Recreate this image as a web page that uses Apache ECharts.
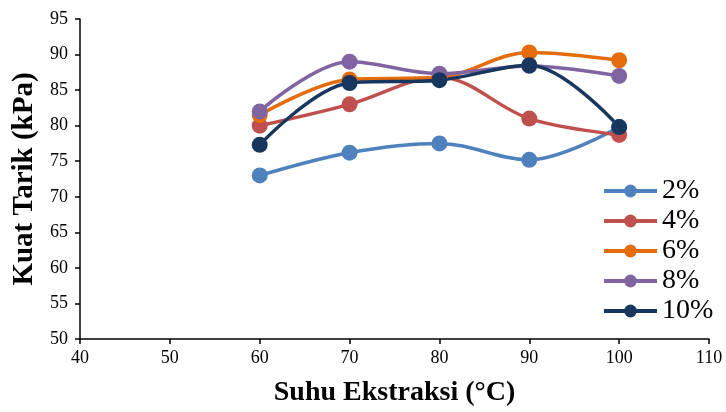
<!DOCTYPE html>
<html><head><meta charset="utf-8">
<script src="https://cdn.jsdelivr.net/npm/echarts@6/dist/echarts.min.js"></script>
<style>html,body{margin:0;padding:0;background:#fff}#c{width:726px;height:412px}</style>
</head><body><div id="c"></div>
<script>
const temps = [60, 70, 80, 90, 100];
const seriesNames = ['2%', '4%', '6%', '8%', '10%'];
const s2 = [73.0, 76.2, 77.5, 75.2, 79.8];
const s4 = [80.0, 83.0, 86.8, 81.0, 78.7];
const s6 = [81.5, 86.5, 86.8, 90.3, 89.2];
const s8 = [82.0, 89.0, 87.3, 88.4, 87.0];
const s10 = [77.3, 86.0, 86.4, 88.5, 79.8];
const colors = ['#4F81BD', '#C0504D', '#E46C0A', '#8064A2', '#17375E'];
const values = [s2, s4, s6, s8, s10];

const chart = echarts.init(document.getElementById('c'));
const font = 'Liberation Serif, Times New Roman, serif';
chart.setOption({
  animation: false,
  grid: {left: 80, right: 17, top: 19, bottom: 72},
  legend: {
    orient: 'vertical', left: 597, top: 172,
    itemWidth: 53, itemHeight: 16, itemGap: 2,
    lineStyle: {width: 4},
    textStyle: {fontFamily: font, fontSize: 28, color: '#000', lineHeight: 28, padding: [0,0,0,0]},
    data: seriesNames
  },
  xAxis: {
    type: 'value', min: 40, max: 110, interval: 10,
    name: 'Suhu Ekstraksi (°C)', nameLocation: 'middle', nameGap: 40,
    nameTextStyle: {fontFamily: font, fontSize: 28, fontWeight: 'bold', color: '#000'},
    axisLine: {lineStyle: {color: '#000', width: 1.5}},
    axisTick: {show: true, length: 5, lineStyle: {color: '#000', width: 1.5}},
    axisLabel: {fontFamily: font, fontSize: 18, color: '#000', margin: 10},
    splitLine: {show: false}
  },
  yAxis: {
    type: 'value', min: 50, max: 95, interval: 5,
    name: 'Kuat Tarik (kPa)', nameLocation: 'middle', nameGap: 36,
    nameTextStyle: {fontFamily: font, fontSize: 29, fontWeight: 'bold', color: '#000'},
    axisLine: {show: true, lineStyle: {color: '#000', width: 1.5}},
    axisTick: {show: true, length: 5, lineStyle: {color: '#000', width: 1.5}},
    axisLabel: {fontFamily: font, fontSize: 18, color: '#000', margin: 12},
    splitLine: {show: false}
  },
  series: seriesNames.map((n, i) => ({
    name: n, type: 'line', smooth: 0.35,
    data: temps.map((t, j) => [t, values[i][j]]),
    symbol: 'circle', symbolSize: 16,
    lineStyle: {width: 3.5, color: colors[i]},
    itemStyle: {color: colors[i]}
  }))
});
</script></body></html>
